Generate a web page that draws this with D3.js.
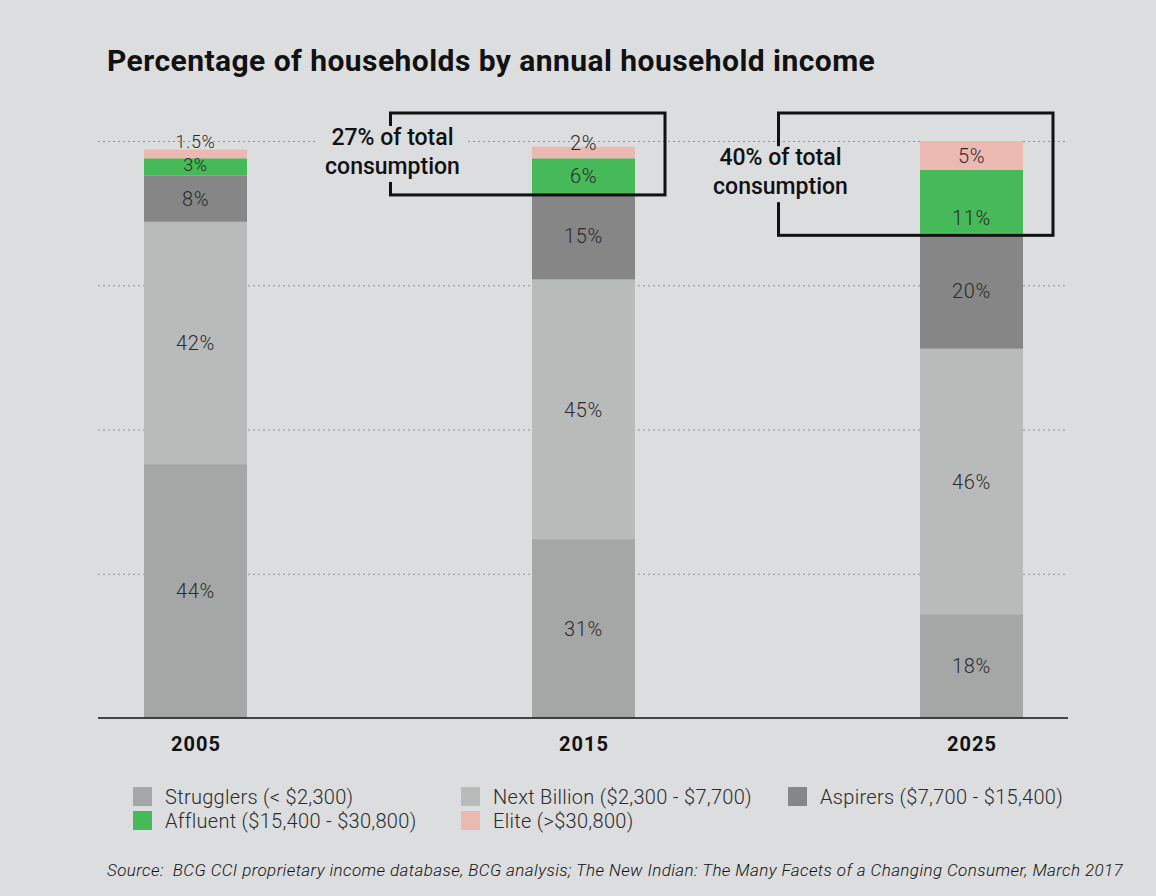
<!DOCTYPE html>
<html>
<head>
<meta charset="utf-8">
<script src="https://cdn.jsdelivr.net/npm/d3@7"></script>
<style>
  body { margin: 0; background: #dcdddf; }
  svg { display: block; }
</style>
</head>
<body>
<script>
// data
const years      = ["2005", "2015", "2025"];
const segments   = ["Strugglers", "Next Billion", "Aspirers", "Affluent", "Elite"];
const legendText = ["Strugglers (< $2,300)", "Next Billion ($2,300 - $7,700)", "Aspirers ($7,700 - $15,400)",
                    "Affluent ($15,400 - $30,800)", "Elite (>$30,800)"];
const strugglers  = [44, 31, 18];
const nextBillion = [42, 45, 46];
const aspirers    = [8, 15, 20];
const affluent    = [3, 6, 11];
const elite       = [1.5, 2, 5];
const gridTicks   = [25, 50, 75, 100];
const callouts    = [{year: "2015", text: ["27% of total", "consumption"]},
                     {year: "2025", text: ["40% of total", "consumption"]}];

const colors = ["#a5a7a6", "#b9bbba", "#858685", "#46b958", "#ecb8b2"];
const bg = "#dcdddf";
const W = 1156, H = 896;
const barW = 103;
const margin = {left: 98, right: 1068, top: 141, bottom: 718};

const table = years.map((yr, i) => ({
  year: yr,
  "Strugglers": strugglers[i],
  "Next Billion": nextBillion[i],
  "Aspirers": aspirers[i],
  "Affluent": affluent[i],
  "Elite": elite[i]
}));

const svg = d3.select("body").append("svg")
  .attr("width", W).attr("height", H)
  .style("font-family", "Roboto, sans-serif");

svg.append("rect").attr("width", W).attr("height", H).attr("fill", bg);

const xScale = d3.scalePoint().domain(years).range([195.5, 971.5]);
const yScale = d3.scaleLinear().domain([0, 100]).range([margin.bottom, margin.top]);

// title
svg.append("text")
  .attr("x", 107).attr("y", 71)
  .attr("font-size", 30).attr("font-weight", 700)
  .attr("letter-spacing", 0.45)
  .attr("fill", "#111")
  .text("Percentage of households by annual household income");

// dotted gridlines
svg.append("g").selectAll("line")
  .data(gridTicks).join("line")
  .attr("x1", margin.left).attr("x2", margin.right)
  .attr("y1", d => yScale(d) + 0.5).attr("y2", d => yScale(d) + 0.5)
  .attr("stroke", "#8f8f8f").attr("stroke-width", 1)
  .attr("stroke-dasharray", "2,3");

const stacked = d3.stack().keys(segments)(table);

const layers = svg.append("g").selectAll("g")
  .data(stacked).join("g")
  .attr("fill", (d, i) => colors[i]);

layers.selectAll("rect")
  .data(d => d).join("rect")
  .attr("x", d => xScale(d.data.year) - barW / 2)
  .attr("width", barW)
  .attr("y", d => yScale(d[1]))
  .attr("height", d => yScale(d[0]) - yScale(d[1]));

// segment labels
const labels = svg.append("g")
  .attr("font-weight", 300)
  .attr("letter-spacing", 0.6)
  .attr("fill", "#2b2b2b").attr("text-anchor", "middle");

stacked.forEach(layer => {
  layer.forEach(d => {
    let cy = (yScale(d[0]) + yScale(d[1])) / 2;
    const h = yScale(d[0]) - yScale(d[1]);
    let fs = 20;
    if (h < 10) { cy = yScale(d[1]) - 8; fs = 18; }   // tiny slice: sit on top
    else if (h < 15) cy = yScale(d[1]) - 4;
    else if (h < 20) { cy -= 2; fs = 18; }
    if (layer.key === "Affluent" && h > 40) cy = yScale(d[0]) - 16; // keep clear of callout
    labels.append("text")
      .attr("x", xScale(d.data.year))
      .attr("y", cy)
      .attr("dy", "0.36em")
      .attr("font-size", fs)
      .text(d.data[layer.key] + "%");
  });
});

// baseline axis
const xAxis = d3.axisBottom(xScale).tickSize(0).tickPadding(19);
const axisG = svg.append("g")
  .attr("transform", `translate(0,${margin.bottom})`)
  .call(xAxis);
axisG.select(".domain").remove();
axisG.append("line")
  .attr("x1", margin.left).attr("x2", margin.right)
  .attr("stroke", "#111").attr("stroke-width", 1.5);
axisG.selectAll(".tick text")
  .attr("font-family", "Roboto, sans-serif")
  .attr("font-size", 20).attr("font-weight", 700)
  .attr("letter-spacing", 1)
  .attr("fill", "#111");

// callout boxes around affluent + elite
callouts.forEach(c => {
  const i = years.indexOf(c.year);
  const x0 = xScale(c.year) - 193;
  const x1 = xScale(c.year) + barW / 2 + 30;
  const yTop = 113;
  const yBot = yScale(strugglers[i] + nextBillion[i] + aspirers[i]) + 2;
  const g = svg.append("g");
  g.append("rect")
    .attr("x", x0).attr("y", yTop)
    .attr("width", x1 - x0).attr("height", yBot - yTop)
    .attr("fill", "none").attr("stroke", "#111").attr("stroke-width", 3);
  const tcy = (yTop + yBot) / 2 - 2;
  g.append("rect")
    .attr("x", x0 - 75).attr("y", tcy - 26)
    .attr("width", 150).attr("height", 56)
    .attr("fill", bg);
  g.append("text")
    .attr("text-anchor", "middle")
    .attr("font-size", 23).attr("font-weight", 500)
    .attr("fill", "#111")
    .selectAll("tspan").data(c.text).join("tspan")
    .attr("x", x0 + 2)
    .attr("y", (d, k) => tcy - 7 + k * 29)
    .text(d => d);
});

// legend
const legendPos = [[133, 787], [461, 787], [788, 787], [133, 811], [461, 811]];
const legend = svg.append("g").selectAll("g")
  .data(legendText).join("g")
  .attr("transform", (d, i) => `translate(${legendPos[i][0]},${legendPos[i][1]})`);
legend.append("rect")
  .attr("width", 19).attr("height", 19)
  .attr("fill", (d, i) => colors[i]);
legend.append("text")
  .attr("x", 32).attr("y", 10).attr("dy", "0.35em")
  .attr("font-size", 20).attr("font-weight", 300)
  .attr("letter-spacing", 0.3)
  .attr("fill", "#2b2b2b")
  .text(d => d);

// source
svg.append("text")
  .attr("x", 107).attr("y", 876)
  .attr("font-size", 17).attr("font-style", "italic").attr("font-weight", 300)
  .attr("letter-spacing", 0.4)
  .style("white-space", "pre")
  .attr("fill", "#111")
  .text("Source:  BCG CCI proprietary income database, BCG analysis; The New Indian: The Many Facets of a Changing Consumer, March 2017");
</script>
</body>
</html>
